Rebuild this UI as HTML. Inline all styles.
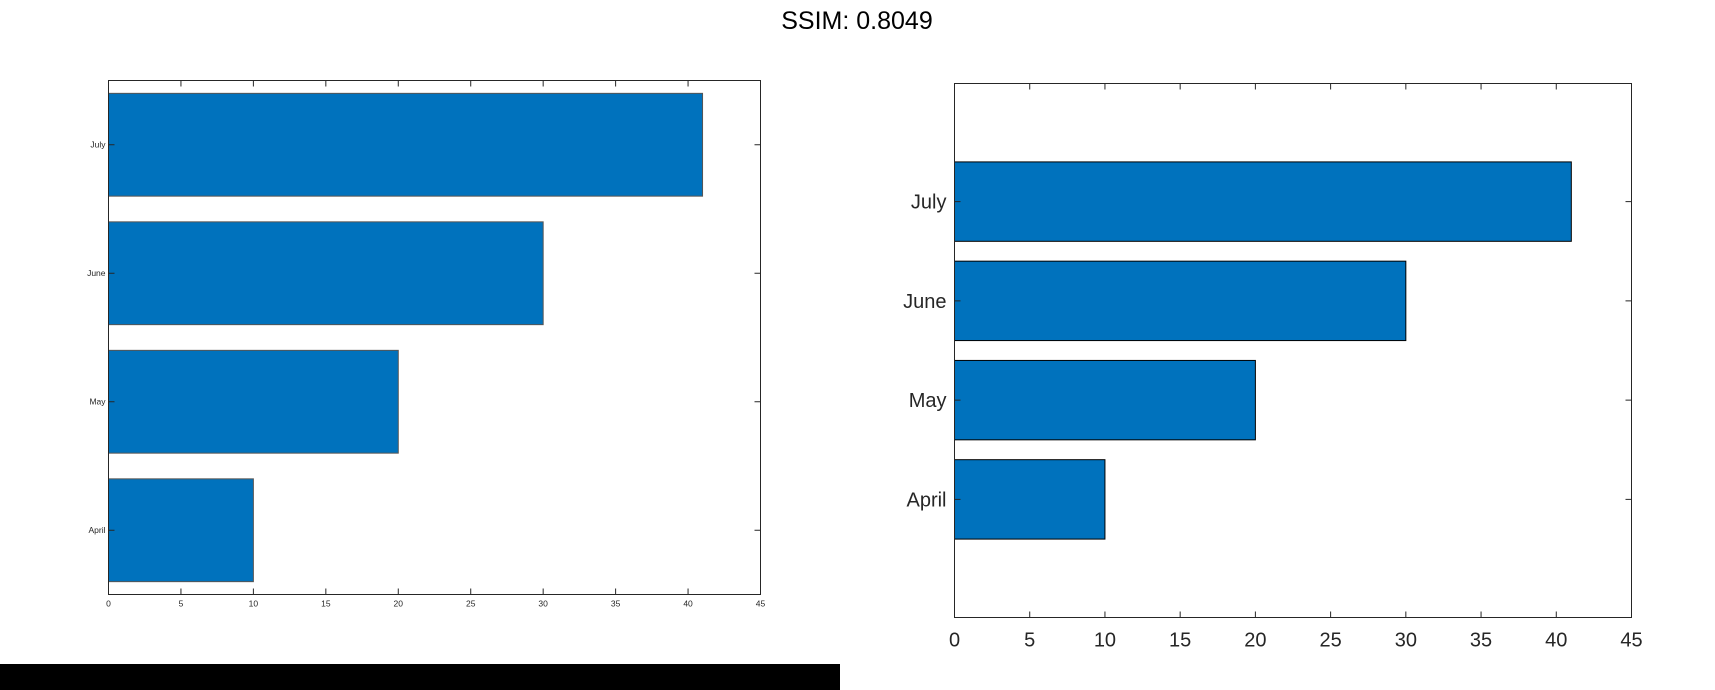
<!DOCTYPE html>
<html><head><meta charset="utf-8"><style>
html,body{margin:0;padding:0;background:#fff;width:1715px;height:690px;overflow:hidden}
svg{display:block;font-family:"Liberation Sans",Arial,sans-serif}
</style></head><body>
<svg id="s" width="1715" height="690" viewBox="0 0 1715 690">
<text x="857" y="29" text-anchor="middle" font-size="25" fill="#000">SSIM: 0.8049</text>
<rect x="0" y="664" width="840" height="26" fill="#000"/>
</svg>
<script>
const categories = ["April","May","June","July"];
const values = [10,20,30,41];
const xTicks = [0,5,10,15,20,25,30,35,40,45];
const svg = document.getElementById('s');
const NS = 'http://www.w3.org/2000/svg';
function mk(tag, attrs, parent){const e=document.createElementNS(NS,tag);for(const k in attrs)e.setAttribute(k,attrs[k]);(parent||svg).appendChild(e);return e;}
function chart(cfg){
  const g = mk('g',{});
  
  
  const X = v => cfg.L + (v - 0) / 45 * (cfg.R - cfg.L);
  const Y = v => cfg.B - (v - cfg.y0) / (cfg.y1 - cfg.y0) * (cfg.B - cfg.T);
  const bw = 0.8;
  values.forEach((v,i)=>{
    const c = i+1;
    const r = mk('rect',{x:X(0),y:Y(c+bw/2),width:X(v)-X(0),height:Y(c-bw/2)-Y(c+bw/2),fill:'#0072BD',stroke:cfg.edge,'stroke-width':1},g);
    
    
  });
  const box = mk('rect',{x:cfg.L,y:cfg.T,width:cfg.R-cfg.L,height:cfg.B-cfg.T,fill:'none',stroke:'#262626','stroke-width':1},g);
  
  
  const tl = cfg.tick;
  xTicks.forEach(t=>{
    const x = X(t);
    mk('line',{x1:x,x2:x,y1:cfg.B,y2:cfg.B-tl,stroke:'#262626'},g);
    mk('line',{x1:x,x2:x,y1:cfg.T,y2:cfg.T+tl,stroke:'#262626'},g);
    const tx = mk('text',{x:x,y:cfg.B+cfg.xOff,'text-anchor':'middle','font-size':cfg.fs,fill:'#262626'},g);
    tx.textContent = t;
    
    
  });
  categories.forEach((c,i)=>{
    const y = Y(i+1);
    mk('line',{x1:cfg.L,x2:cfg.L+tl,y1:y,y2:y,stroke:'#262626'},g);
    mk('line',{x1:cfg.R,x2:cfg.R-tl,y1:y,y2:y,stroke:'#262626'},g);
    const tx = mk('text',{x:cfg.L-cfg.yOff,y:y+cfg.fs*0.35,'text-anchor':'end','font-size':cfg.fs,fill:'#262626'},g);
    tx.textContent = c;
    
    
  });
}
chart({name:'left-chart',L:108.5,R:760.5,T:80.5,B:594.5,y0:0.5,y1:4.5,tick:6,fs:8.5,xOff:12,yOff:3,edge:'#555'});
chart({name:'right-chart',L:954.5,R:1631.5,T:83.5,B:617.5,y0:-0.19,y1:5.19,tick:6,fs:20,xOff:29,yOff:8,edge:'#000'});
</script>
</body></html>
